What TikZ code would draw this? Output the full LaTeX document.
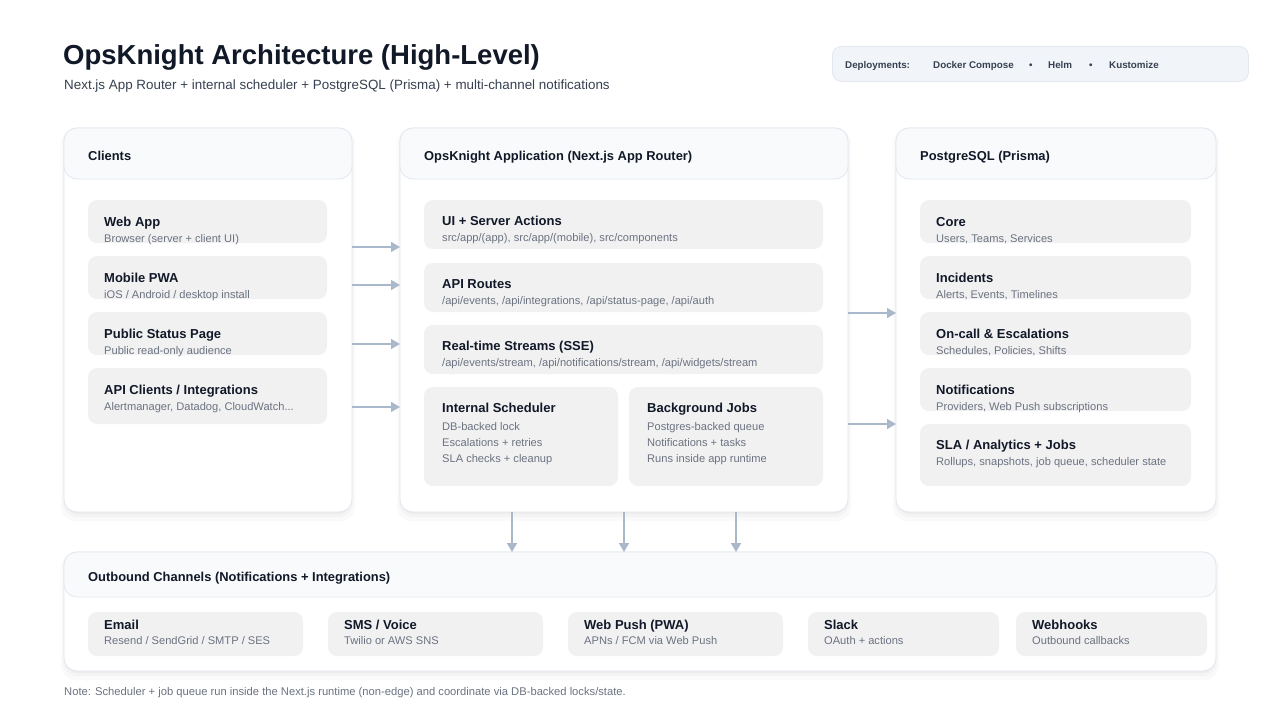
\documentclass[tikz,border=0pt]{standalone}
\usepackage{fontspec}
\setmainfont{Liberation Sans}
\usetikzlibrary{arrows.meta}
\definecolor{ink}{HTML}{111827}
\definecolor{subink}{HTML}{374151}
\definecolor{muted}{HTML}{6B7280}
\definecolor{cardfill}{HTML}{F1F1F2}
\definecolor{headfill}{HTML}{F8FAFC}
\definecolor{edgec}{HTML}{E3E8EF}
\definecolor{arrowc}{HTML}{AAB8CB}
\definecolor{depfill}{HTML}{F1F5F9}
\tikzset{
  panelbox/.style={draw=edgec, line width=0.8pt, fill=white, rounded corners=13pt, inner sep=0pt, outer sep=0pt},
  headbox/.style={draw=edgec, line width=0.8pt, fill=headfill, rounded corners=13pt, inner sep=0pt, outer sep=0pt},
  cardbox/.style={fill=cardfill, rounded corners=9pt, inner sep=0pt, outer sep=0pt},
  htitle/.style={anchor=base west, inner sep=0pt, text=ink, font=\fontsize{12.9}{15}\selectfont\bfseries},
  ctitle/.style={anchor=base west, inner sep=0pt, text=ink, font=\fontsize{13}{15}\selectfont\bfseries},
  csub/.style={anchor=base west, inner sep=0pt, text=muted, font=\fontsize{11.1}{13}\selectfont},
  deptext/.style={anchor=base west, inner sep=0pt, text=subink, font=\fontsize{9.8}{11}\selectfont\bfseries},
  flow/.style={draw=arrowc, line width=1.6pt, -{Triangle[width=10pt,length=9pt]}},
  shadowlayer/.style={fill=black, rounded corners=14pt}
}
% panel: name, x, y, w, h, title, header height
\newcommand\mkpanel[7]{%
  \fill[shadowlayer, opacity=0.018] ({#2-3},{#3+1}) rectangle ({#2+#4+3},{#3+#5+9});
  \fill[shadowlayer, opacity=0.025] ({#2-1},{#3+1}) rectangle ({#2+#4+1},{#3+#5+5});
  \fill[shadowlayer, opacity=0.03] (#2,{#3+1}) rectangle ({#2+#4},{#3+#5+2});
  \node[panelbox, minimum width=#4pt, minimum height=#5pt, anchor=north west] (#1) at (#2,#3) {};
  \node[headbox, minimum width=#4pt, minimum height=#7pt, anchor=north west] (#1head) at (#2,#3) {};
  \node[htitle] (#1title) at ([xshift=24pt,yshift={-(#7/2+6.5)*1pt}]#1.north west) {#6};
}
% card: name, x, y, w, h, title, subtitle
\newcommand\mkcard[7]{%
  \node[cardbox, minimum width=#4pt, minimum height=#5pt, anchor=north west] (#1) at (#2,#3) {};
  \node[ctitle] (#1t) at ([xshift=\cx pt,yshift=-\cta pt]#1.north west) {#6};
  \node[csub] (#1s) at ([xshift=\cx pt,yshift=-\ctb pt]#1.north west) {#7};
}
\newcommand\cx{16}
\newcommand\cta{26}
\newcommand\ctb{42}
\begin{document}
\begin{tikzpicture}[x=1pt,y=-1pt]
\useasboundingbox[fill=white] (0,0) rectangle (1280,720);

% Title
\node[anchor=base west, inner sep=0pt, text=ink, font=\fontsize{27.5}{32}\selectfont\bfseries] (title) at (63,64.5) {OpsKnight Architecture (High-Level)};
\node[anchor=base west, inner sep=0pt, text=subink, font=\fontsize{13.4}{16}\selectfont] (subtitle) at (64,89.5) {Next.js App Router + internal scheduler + PostgreSQL (Prisma) + multi-channel notifications};

% Deployments
\node[draw=edgec, line width=0.8pt, fill=depfill, rounded corners=9pt, minimum width=416pt, minimum height=35pt, anchor=north west, inner sep=0pt] (deploy) at (832,46) {};
\node[deptext] (d0) at (845,68.5) {Deployments:};
\node[deptext] (d1) at (933,68.5) {Docker Compose};
\node[deptext] (b1) at (1029,68.5) {•};
\node[deptext] (d2) at (1048,68.5) {Helm};
\node[deptext] (b2) at (1089,68.5) {•};
\node[deptext] (d3) at (1109,68.5) {Kustomize};

% Panels
\mkpanel{clients}{64}{128}{288}{384}{Clients}{51}
\mkpanel{app}{400}{128}{448}{384}{OpsKnight Application (Next.js App Router)}{51}
\mkpanel{db}{896}{128}{320}{384}{PostgreSQL (Prisma)}{51}
\mkpanel{out}{64}{552}{1152}{119}{Outbound Channels (Notifications + Integrations)}{45}

% Clients cards
\mkcard{webapp}{88}{200}{239}{43}{Web App}{Browser (server + client UI)}
\mkcard{pwa}{88}{256}{239}{43}{Mobile PWA}{iOS / Android / desktop install}
\mkcard{status}{88}{312}{239}{43}{Public Status Page}{Public read-only audience}
\mkcard{apic}{88}{368}{239}{56}{API Clients / Integrations}{Alertmanager, Datadog, CloudWatch...}

% App cards
\renewcommand\cx{18}\renewcommand\cta{25.5}\renewcommand\ctb{41}
\mkcard{ui}{424}{200}{399}{49}{UI + Server Actions}{src/app/(app), src/app/(mobile), src/components}
\mkcard{api}{424}{263}{399}{49}{API Routes}{/api/events, /api/integrations, /api/status-page, /api/auth}
\mkcard{sse}{424}{325}{399}{49}{Real-time Streams (SSE)}{/api/events/stream, /api/notifications/stream, /api/widgets/stream}
\renewcommand\ctb{43}
\mkcard{sched}{424}{387}{194}{99}{Internal Scheduler}{DB-backed lock}
\node[csub] (sched2) at ([xshift=18pt,yshift=-59pt]sched.north west) {Escalations + retries};
\node[csub] (sched3) at ([xshift=18pt,yshift=-75pt]sched.north west) {SLA checks + cleanup};
\mkcard{jobs}{629}{387}{194}{99}{Background Jobs}{Postgres-backed queue}
\node[csub] (jobs2) at ([xshift=18pt,yshift=-59pt]jobs.north west) {Notifications + tasks};
\node[csub] (jobs3) at ([xshift=18pt,yshift=-75pt]jobs.north west) {Runs inside app runtime};

% DB cards
\renewcommand\cx{16}\renewcommand\cta{26}\renewcommand\ctb{42}
\mkcard{core}{920}{200}{271}{43}{Core}{Users, Teams, Services}
\mkcard{inc}{920}{256}{271}{43}{Incidents}{Alerts, Events, Timelines}
\mkcard{oncall}{920}{312}{271}{43}{On-call \& Escalations}{Schedules, Policies, Shifts}
\mkcard{notif}{920}{368}{271}{43}{Notifications}{Providers, Web Push subscriptions}
\renewcommand\cta{25}\renewcommand\ctb{41}
\mkcard{sla}{920}{424}{271}{62}{SLA / Analytics + Jobs}{Rollups, snapshots, job queue, scheduler state}

% Outbound cards
\renewcommand\cx{16}\renewcommand\cta{17}\renewcommand\ctb{32.5}
\mkcard{email}{88}{612}{215}{44}{Email}{Resend / SendGrid / SMTP / SES}
\mkcard{sms}{328}{612}{215}{44}{SMS / Voice}{Twilio or AWS SNS}
\mkcard{push}{568}{612}{215}{44}{Web Push (PWA)}{APNs / FCM via Web Push}
\mkcard{slack}{808}{612}{191}{44}{Slack}{OAuth + actions}
\mkcard{hooks}{1016}{612}{191}{44}{Webhooks}{Outbound callbacks}

% Connector end points
\coordinate (ca1) at (352,247); \coordinate (aa1) at (400,247);
\coordinate (ca2) at (352,285); \coordinate (aa2) at (400,285);
\coordinate (ca3) at (352,344); \coordinate (aa3) at (400,344);
\coordinate (ca4) at (352,407); \coordinate (aa4) at (400,407);
\coordinate (ad1) at (848,313); \coordinate (da1) at (896,313);
\coordinate (ad2) at (848,424); \coordinate (da2) at (896,424);
\coordinate (ao1) at (512,512); \coordinate (oa1) at (512,552);
\coordinate (ao2) at (624,512); \coordinate (oa2) at (624,552);
\coordinate (ao3) at (736,512); \coordinate (oa3) at (736,552);

\draw[flow] (ca1) -- (aa1);
\draw[flow] (ca2) -- (aa2);
\draw[flow] (ca3) -- (aa3);
\draw[flow] (ca4) -- (aa4);
\draw[flow] (ad1) -- (da1);
\draw[flow] (ad2) -- (da2);
\draw[flow] (ao1) -- (oa1);
\draw[flow] (ao2) -- (oa2);
\draw[flow] (ao3) -- (oa3);

% Note
\node[anchor=base west, inner sep=0pt, text=muted, font=\fontsize{11.2}{13}\selectfont] (note) at (64,695) {Note: Scheduler + job queue run inside the Next.js runtime (non-edge) and coordinate via DB-backed locks/state.};
\end{tikzpicture}
\end{document}
